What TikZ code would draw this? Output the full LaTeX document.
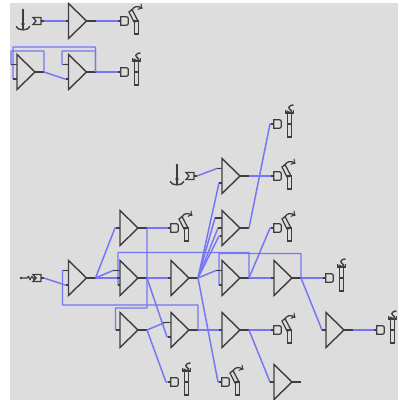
\documentclass[tikz,border=0pt]{standalone}
\usepackage{xcolor}
\usetikzlibrary{shapes.geometric}
\definecolor{panel}{RGB}{221,221,221}
\definecolor{wireblue}{RGB}{118,118,245}
\definecolor{inkgray}{RGB}{62,62,62}
\tikzset{
  amp/.style={isosceles triangle,isosceles triangle stretches,draw=inkgray,line width=1pt,
    minimum width=0.875cm,minimum height=0.45cm,inner sep=0pt,outer sep=0pt,anchor=lower side,shape border rotate=0},
  gate/.style={rectangle,minimum width=0.19cm,minimum height=0.21cm,inner sep=0pt,outer sep=0pt},
  wire/.style={draw=wireblue,line width=1.05pt,line join=round},
  stub/.style={draw=inkgray,line width=1pt},
  thin ink/.style={draw=inkgray,line width=0.8pt},
  sumbox/.pic={
    \draw[thin ink,line width=0.9pt] (-4,-3.5) -- (4,-3.5) -- (4,3.5) -- (-4,3.5) -- (-1,0) -- cycle;
    \draw[stub] (4,0) -- (7,0) coordinate (-o);
  },
  anchormark/.pic={
    \draw[thin ink,line width=1pt] (0,-11) -- (0,8);
    \fill[inkgray] (0,-11) circle (1.4);
    \fill[inkgray] (0,3) circle (1.8);
    \draw[thin ink,line width=1pt] (-7,5.5) .. controls (-5,10) and (5,10) .. (7,5.5);
  },
  wiggle/.pic={
    \fill[inkgray] (-16,0) circle (1.4);
    \draw[thin ink] (-16,0) -- (-10,0) -- (-8.5,-1.5) -- (-7,1.5) -- (-5,-1.5) -- (-3,1.5) -- (-1.5,0) -- (-4,0);
  },
  bentmark/.pic={
    \draw[thin ink,line width=0.9pt] (10,0) rectangle (14,13);
    \draw[thin ink,line width=0.9pt] (4.5,-9) -- (7.5,-11.5) -- (13.5,0) -- (9.5,1) -- cycle;
    \draw[thin ink,->,line width=0.9pt] (7,-10) .. controls (9,-15) and (13,-15.5) .. (18,-12.5);
  },
  curlmark/.pic={
    \draw[thin ink,line width=0.9pt] (10,-11) rectangle (14,13);
    \draw[thin ink] (10,0) -- (14,0);
    \draw[thin ink,line width=1pt] (8,-14) -- (8,-11) -- (16,-11) -- (16,-14);
    \draw[thin ink,line width=1pt] (9,-13) .. controls (13,-10) and (17,-12) .. (12,-15) .. controls (10,-17) and (13,-19) .. (16,-19);
  },
}
% one amplifier: triangle, output stub, three input points
\newcommand{\ampnode}[3]{
  \node[amp] (#1) at (#2,#3) {};
  \draw[stub] (#1.apex) -- ++(9,0) coordinate (#1-o);
  \coordinate (#1-u) at (#2,#3-7.5);
  \coordinate (#1-m) at (#2,#3);
  \coordinate (#1-d) at (#2,#3+7);
}
\begin{document}
\begin{tikzpicture}[x=0.025cm,y=-0.025cm]
    \useasboundingbox (0,0) rectangle (403,400);
    \fill[panel] (10,3) rectangle (398,400);

    % top row
    \ampnode{ta}{68.5}{21}
    \ampnode{tb}{17}{72}
    \ampnode{tc}{68.5}{72}
    % big net
    \ampnode{a}{68.5}{278}
    \ampnode{b}{120}{228}
    \ampnode{c}{120}{278}
    \ampnode{d}{171}{278}
    \ampnode{e}{171}{330}
    \ampnode{f}{120}{330}
    \ampnode{h}{222}{176}
    \ampnode{i}{222}{228}
    \ampnode{g}{222}{278}
    \ampnode{j}{274}{278}
    \ampnode{l}{222}{330}
    \ampnode{k}{326}{330}
    \ampnode{m}{274}{382}

    \pic (s1) at (37,21) {sumbox};
    \pic at (37,21) [xshift=-0.35cm] {anchormark};
    \pic (s2) at (37,278) {sumbox};
    \pic at (37,278) {wiggle};
    \pic (s3) at (190,176) {sumbox};
    \pic at (190,176) [xshift=-0.325cm] {anchormark};

    \foreach \n/\x/\y/\k in {g1/124.5/21/bentmark,g2/124.5/72/curlmark,g3/277.5/124/curlmark,
        g4/277.5/176/bentmark,g5/277.5/228/bentmark,g6/174.5/228/bentmark,g7/329.5/278/curlmark,
        g8/277.5/330/bentmark,g9/380.5/330/curlmark,g10/174.5/382/curlmark,g11/225.5/382/bentmark}{
        \node[gate] (\n) at (\x,\y) {};
        \draw[thin ink,line width=0.9pt] (\n.north west) -- (\n.north) .. controls (\n.north east) .. (\n.east)
            .. controls (\n.south east) .. (\n.south) -- (\n.south west) -- cycle;
        \pic at (\x,\y) {\k};
    }

    % wires
    \draw[wire] (s1-o) -- (ta-m);
    \draw[wire] (ta-o) -- (g1.west);
    \draw[wire] (tb-o) -- (44,51) -- (11,51) -- (11,64.5) -- (tb-u);
    \draw[wire] (tc-o) -- (95.5,47) -- (13,47) -- (13,79) -- (tb-d);
    \draw[wire] (tb-o) -- (65,79) -- (tc-d);
    \draw[wire] (tc-o) -- (95.5,51) -- (62,51) -- (62,64.5) -- (tc-u);
    \draw[wire] (tc-o) -- (g2.west);

    \draw[wire] (s2-o) -- (65,285) -- (a-d);
    \draw[wire] (e-o) -- (198,305) -- (62.5,305) -- (62.5,270.5) -- (a-u);
    \draw[wire] (a-o) -- (115,228) -- (b-m);
    \draw[wire] (a-o) -- (113,270.5) -- (c-u);
    \draw[wire] (a-o) -- (c-m);
    \draw[wire] (b-o) -- (g6.west);
    \draw[wire] (b-o) -- (147,308) -- (115.5,308) -- (115.5,330) -- (f-m);
    \draw[wire] (c-o) -- (d-m);
    \draw[wire] (c-o) -- (167,337) -- (e-d);
    \draw[wire] (f-o) -- (165,322.5) -- (e-u);
    \draw[wire] (f-o) -- (166,382) -- (g10.west);
    \draw[wire] (g-o) -- (249,252.5) -- (118,252.5) -- (118,285) -- (c-d);

    \draw[wire] (s3-o) -- (217,168.5) -- (h-u);
    \draw[wire] (d-o) -- (219,183) -- (h-d);
    \draw[wire] (d-o) -- (215,218) -- (222,218);
    \draw[wire] (d-o) -- (218,228) -- (i-m);
    \draw[wire] (d-o) -- (219,236) -- (222,236);
    \draw[wire] (d-o) -- (216,270.5) -- (g-u);
    \draw[wire] (d-o) -- (218,382) -- (g11.west);
    \draw[wire] (h-o) -- (g4.west);
    \draw[wire] (i-o) -- (270,124) -- (g3.west);
    \draw[wire] (j-o) -- (301,253.5) -- (219,253.5) -- (219,285) -- (g-d);
    \draw[wire] (g-o) -- (j-m);
    \draw[wire] (g-o) -- (270,228) -- (g5.west);
    \draw[wire] (j-o) -- (g7.west);
    \draw[wire] (j-o) -- (322,330) -- (k-m);
    \draw[wire] (k-o) -- (g9.west);
    \draw[wire] (e-o) -- (l-m);
    \draw[wire] (l-o) -- (g8.west);
    \draw[wire] (l-o) -- (270,382) -- (m-m);

    % grey input stubs
    \foreach \w/\l in {ta-m/3,tb-u/6,tb-d/4,tc-u/6,tc-d/3,a-u/6,a-d/3,b-m/4,c-u/7,c-m/3,c-d/2,
        d-m/3,e-u/8,e-d/3,f-m/4,h-u/5,h-d/3,i-m/4,g-u/6,g-d/3,j-m/3,k-m/4,l-m/3,m-m/4}{
        \draw[stub] (\w) -- ++(-\l,0);
    }
    \draw[stub] (222,218) -- (215,218);
    \draw[stub] (222,236) -- (219.5,236);
    \foreach \n in {g1,g2,g3,g4,g5,g6,g7,g8,g9,g10,g11}{
        \draw[stub] (\n.west) -- ++(-3,0);
    }
\end{tikzpicture}
\end{document}
